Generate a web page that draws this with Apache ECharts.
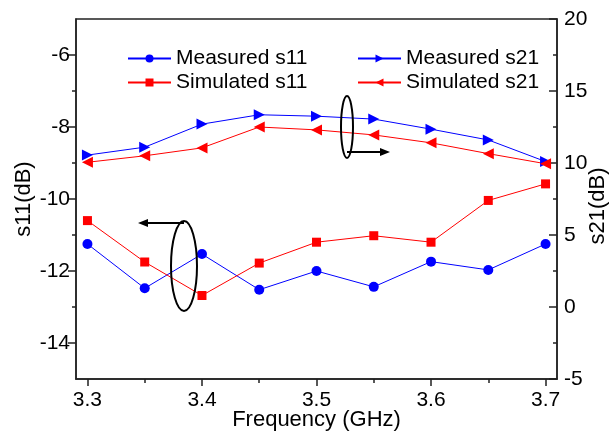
<!DOCTYPE html>
<html>
<head>
<meta charset="utf-8">
<script src="https://cdn.jsdelivr.net/npm/echarts@6/dist/echarts.min.js"></script>
<style>
html,body{margin:0;padding:0;background:#fff;}
#main{width:610px;height:435px;}
</style>
</head>
<body>
<div id="main"></div>
<script>
var freq = [3.3, 3.35, 3.4, 3.45, 3.5, 3.55, 3.6, 3.65, 3.7];
var measuredS11 = [-11.25, -12.48, -11.53, -12.52, -12.0, -12.44, -11.74, -11.97, -11.25];
var simulatedS11 = [-10.6, -11.75, -12.68, -11.78, -11.2, -11.02, -11.2, -10.04, -9.58];
var measuredS21 = [10.55, 11.1, 12.7, 13.35, 13.25, 13.05, 12.35, 11.6, 10.1];
var simulatedS21 = [10.05, 10.5, 11.05, 12.5, 12.3, 11.95, 11.4, 10.65, 9.95];
var xTicks = [3.3, 3.4, 3.5, 3.6, 3.7];
var xMinorTicks = [3.35, 3.45, 3.55, 3.65];
var leftTicks = [-14, -12, -10, -8, -6];
var leftMinorTicks = [-13, -11, -9, -7];

function pairs(xs, ys) { return xs.map(function (x, i) { return [x, ys[i]]; }); }

var FONT = '"Liberation Sans", Arial, sans-serif';
var AX = '#222';
var TICK_FS = 21, NAME_FS = 22, LEG_FS = 21;
var gridBox = { left: 76, right: 53, top: 19, bottom: 56, outerBoundsMode: 'none', containLabel: false };
var chart = echarts.init(document.getElementById('main'));
chart.setOption({
  animation: false,
  textStyle: { fontFamily: FONT },
  grid: [
    Object.assign({ show: true, borderColor: AX, borderWidth: 1.5, backgroundColor: 'transparent' }, gridBox),
    Object.assign({ show: false }, gridBox)
  ],
  legend: [
    { data: ['Measured s11', 'Simulated s11'], orient: 'vertical', left: 127, top: 48, padding: 0, itemWidth: 43, itemHeight: 10, itemGap: 3,
      textStyle: { fontSize: LEG_FS, color: '#000', fontFamily: FONT } },
    { data: ['Measured s21', 'Simulated s21'], orient: 'vertical', left: 357, top: 48, padding: 0, itemWidth: 43, itemHeight: 10, itemGap: 3,
      textStyle: { fontSize: LEG_FS, color: '#000', fontFamily: FONT } }
  ],
  xAxis: [
    { gridIndex: 0, type: 'value', min: 3.29, max: 3.71, position: 'bottom',
      name: 'Frequency (GHz)', nameLocation: 'middle', nameGap: 30, nameMoveOverlap: false,
      nameTextStyle: { fontSize: NAME_FS, color: '#000', fontFamily: FONT },
      axisLine: { show: true, onZero: false, lineStyle: { color: AX, width: 1.5 } },
      axisTick: { show: true, customValues: xTicks, length: 7, lineStyle: { color: AX, width: 1.5 } },
      axisLabel: { customValues: xTicks, margin: 11, fontSize: TICK_FS, color: '#000', fontFamily: FONT,
        formatter: function (v) { return v.toFixed(1); } },
      splitLine: { show: false } },
    { gridIndex: 1, type: 'value', min: 3.29, max: 3.71, position: 'bottom',
      axisLine: { show: false, onZero: false },
      axisTick: { show: true, customValues: xMinorTicks, length: 4, lineStyle: { color: AX, width: 1.5 } },
      axisLabel: { show: false }, splitLine: { show: false } }
  ],
  yAxis: [
    { gridIndex: 0, type: 'value', min: -15, max: -5, position: 'left',
      name: 's11(dB)', nameLocation: 'middle', nameGap: 41, nameMoveOverlap: false,
      nameTextStyle: { fontSize: NAME_FS, color: '#000', fontFamily: FONT },
      axisLine: { show: true, onZero: false, lineStyle: { color: AX, width: 1.5 } },
      axisTick: { show: true, customValues: leftTicks, length: 8, lineStyle: { color: AX, width: 1.5 } },
      axisLabel: { customValues: leftTicks, margin: 6, fontSize: TICK_FS, color: '#000', fontFamily: FONT },
      splitLine: { show: false } },
    { gridIndex: 0, type: 'value', min: -5, max: 20, interval: 5, position: 'right',
      name: 's21(dB)', nameLocation: 'middle', nameGap: 30, nameMoveOverlap: false,
      nameTextStyle: { fontSize: NAME_FS, color: '#000', fontFamily: FONT, padding: [0, 14, 0, 0] },
      axisLine: { show: true, onZero: false, lineStyle: { color: AX, width: 1.5 } },
      axisTick: { show: true, inside: true, length: 8, lineStyle: { color: AX, width: 1.5 } },
      minorTick: { show: true, splitNumber: 2, length: 4, lineStyle: { color: AX, width: 1.5 } },
      axisLabel: { margin: 7, fontSize: TICK_FS, color: '#000', fontFamily: FONT },
      splitLine: { show: false } },
    { gridIndex: 1, type: 'value', min: -15, max: -5, position: 'left',
      axisLine: { show: false, onZero: false },
      axisTick: { show: true, customValues: leftMinorTicks, length: 4, lineStyle: { color: AX, width: 1.5 } },
      axisLabel: { show: false }, splitLine: { show: false } }
  ],
  series: [
    { name: 'Measured s11', type: 'line', xAxisIndex: 0, yAxisIndex: 0, data: pairs(freq, measuredS11),
      symbol: 'circle', symbolSize: 10, color: '#0000ff', lineStyle: { width: 1, color: '#0000ff' }, itemStyle: { color: '#0000ff' } },
    { name: 'Simulated s11', type: 'line', xAxisIndex: 0, yAxisIndex: 0, data: pairs(freq, simulatedS11),
      symbol: 'rect', symbolSize: 9, color: '#ff0000', lineStyle: { width: 1, color: '#ff0000' }, itemStyle: { color: '#ff0000' } },
    { name: 'Measured s21', type: 'line', xAxisIndex: 0, yAxisIndex: 1, data: pairs(freq, measuredS21),
      symbol: 'triangle', symbolRotate: -90, symbolSize: 11, color: '#0000ff', lineStyle: { width: 1, color: '#0000ff' }, itemStyle: { color: '#0000ff' } },
    { name: 'Simulated s21', type: 'line', xAxisIndex: 0, yAxisIndex: 1, data: pairs(freq, simulatedS21),
      symbol: 'triangle', symbolRotate: 90, symbolSize: 11, color: '#ff0000', lineStyle: { width: 1, color: '#ff0000' }, itemStyle: { color: '#ff0000' } }
  ],
  graphic: [
    { type: 'ellipse', shape: { cx: 184, cy: 266, rx: 13, ry: 45 }, style: { fill: 'none', stroke: '#000', lineWidth: 2 }, z: 10 },
    { type: 'line', shape: { x1: 184, y1: 223, x2: 146, y2: 223 }, style: { stroke: '#000', lineWidth: 2 }, z: 10 },
    { type: 'polygon', shape: { points: [[138, 223], [148, 219], [148, 227]] }, style: { fill: '#000' }, z: 10 },
    { type: 'ellipse', shape: { cx: 347, cy: 127, rx: 6, ry: 31 }, style: { fill: 'none', stroke: '#000', lineWidth: 2 }, z: 10 },
    { type: 'line', shape: { x1: 347, y1: 152, x2: 382, y2: 152 }, style: { stroke: '#000', lineWidth: 2 }, z: 10 },
    { type: 'polygon', shape: { points: [[390, 152], [380, 148], [380, 156]] }, style: { fill: '#000' }, z: 10 }
  ]
});
</script>
</body>
</html>
